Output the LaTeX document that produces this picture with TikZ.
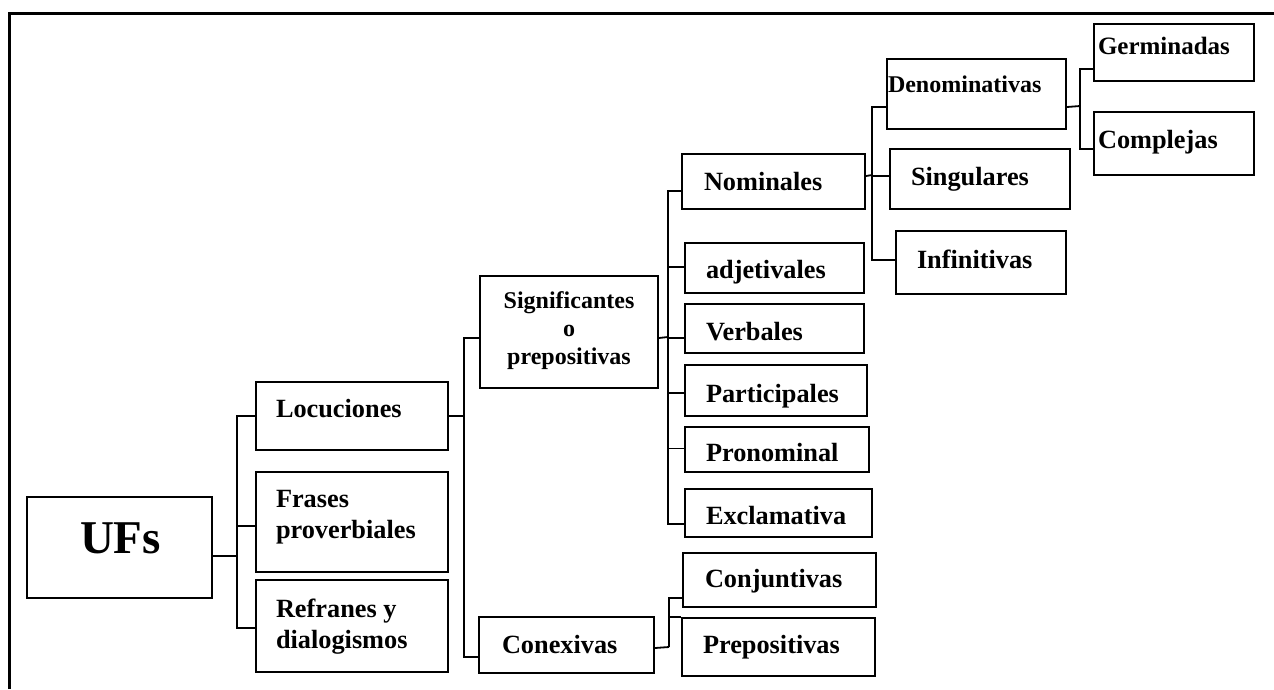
\documentclass[tikz,border=0pt]{standalone}
\usepackage{fontspec}
\setmainfont{Liberation Serif}
\usepackage{tikz}
\usetikzlibrary{calc}
\tikzstyle{box} = [rectangle, draw, line width=2pt, anchor=north west, inner ysep=0pt, inner xsep=21pt, align=flush left, text height=35pt, font=\fontsize{26.3}{31}\selectfont\bfseries]
\tikzstyle{link} = [line width=1.8pt]

\begin{document}
\begin{tikzpicture}[x=1pt, y=-1pt]
\useasboundingbox (0,0) rectangle (1274,689);
\draw [line width=3pt] (9,689) -- (9,13) -- (1274,13);

\node [box, inner xsep=53pt, text width=79pt, text height=56pt, text depth=45pt, font=\fontsize{47}{50}\selectfont\bfseries] (ufs) at (26,496) {UFs};

\node [box, inner xsep=20pt, text width=152pt, text depth=33pt] (loc) at (255,381) {Locuciones};
\node [box, inner xsep=20pt, text width=152pt, text depth=65pt] (fra) at (255,471) {Frases\\proverbiales};
\node [box, inner xsep=20pt, text width=152pt, text height=37pt, text depth=55pt] (ref) at (255,579) {Refranes y\\dialogismos};

\node [box, inner xsep=10pt, text width=158pt, text height=32pt, text depth=80pt, align=flush center, font=\fontsize{24}{28}\selectfont\bfseries] (sig) at (479,275) {Significantes\\o\\prepositivas};
\node [box, inner xsep=23pt, text width=129pt, text height=36pt, text depth=20pt] (con) at (478,616) {Conexivas};

\node [box, inner xsep=22pt, text width=139pt, text height=36pt, text depth=19pt] (nom) at (681,153) {Nominales};
\node [box, text width=137pt, text depth=15pt] (adj) at (684,242) {adjetivales};
\node [box, text width=137pt, text height=36pt, text depth=13pt] (ver) at (684,303) {Verbales};
\node [box, text width=140pt, text height=37pt, text depth=14pt] (par) at (684,364) {Participales};
\node [box, text width=142pt, text height=34pt, text depth=11pt] (pro) at (684,426) {Pronominal};
\node [box, text width=145pt, text depth=13pt] (exc) at (684,488) {Exclamativa};
\node [box, inner xsep=22pt, text width=149pt, text height=34pt, text depth=20pt] (cnj) at (682,552) {Conjuntivas};
\node [box, text width=151pt, text depth=23pt] (pre) at (681,617) {Prepositivas};

\node [box, inner xsep=1pt, text width=177pt, text height=33pt, text depth=37pt, font=\fontsize{24}{28}\selectfont\bfseries] (den) at (886,58) {Denominativas};
\node [box, text width=138pt, text height=36pt, text depth=24pt] (sin) at (889,148) {Singulares};
\node [box, text width=128pt, text height=37pt, text depth=26pt] (inf) at (895,230) {Infinitivas};

\node [box, inner xsep=4pt, text width=152pt, text height=30pt, text depth=27pt, font=\fontsize{25}{30}\selectfont\bfseries] (ger) at (1093,23) {Germinadas};
\node [box, inner xsep=4pt, text width=152pt, text height=36pt, text depth=27pt] (com) at (1093,111) {Complejas};

% UFs
\coordinate (b1) at (237,556);
\draw [link] (ufs.east |- b1) -- (b1);
\draw [link] (b1) |- (loc.west);
\draw [link] (b1) |- ($(fra.west)+(0,4)$);
\draw [link] (b1) |- ($(ref.west)+(0,2)$);

% Locuciones
\coordinate (b2) at (464,415);
\draw [link] (loc.east) -- (loc.east -| b2);
\draw [link] (b2) |- ($(sig.west)+(0,6)$);
\draw [link] (b2) |- ($(con.west)+(0,12)$);

% Significantes
\coordinate (b3) at (668,337);
\draw [link] ($(sig.east)+(0,6)$) -- (b3);
\draw [link] (b3) |- ($(nom.west)+(0,9.5)$);
\draw [link] (b3) |- ($(adj.west)+(0,-1)$);
\draw [link] (b3) |- ($(ver.west)+(0,9.5)$);
\draw [link] (b3) |- ($(par.west)+(0,2.5)$);
\draw [link] (b3) |- ($(pro.west)+(0,-1)$);
\draw [link] (b3) |- ($(exc.west)+(0,11)$);

% Conexivas
\coordinate (b4) at (669,647);
\draw [link] ($(con.east)+(0,3)$) -- (b4);
\draw [link] (b4) |- ($(cnj.west)+(0,18)$);
\draw [link] (b4) |- (pre.north west);

% Nominales
\coordinate (b5) at (872,175);
\draw [link] ($(nom.east)+(0,-5.5)$) -- (b5);
\draw [link] (b5) |- ($(den.west)+(0,13)$);
\draw [link] (b5) |- ($(sin.west)+(0,-3)$);
\draw [link] (b5) |- ($(inf.west)+(0,-2.5)$);

% Denominativas
\coordinate (b6) at (1080,106);
\draw [link] ($(den.east)+(0,13)$) -- (b6);
\draw [link] (b6) |- ($(ger.west)+(0,16.5)$);
\draw [link] (b6) |- ($(com.west)+(0,5.5)$);
\end{tikzpicture}
\end{document}
